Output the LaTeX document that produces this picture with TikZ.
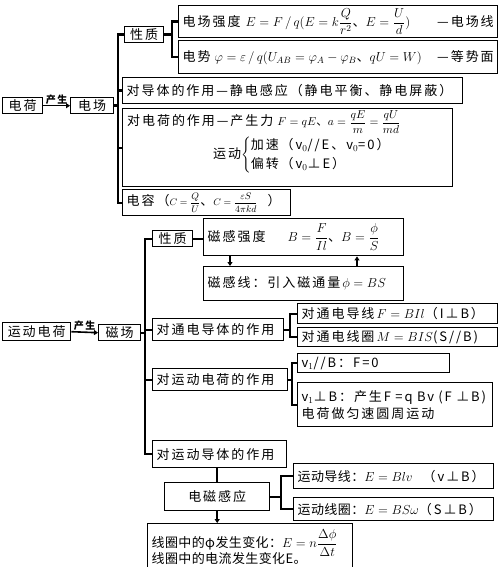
\RequirePackage{fix-cm}
\documentclass[tikz,border=0pt]{standalone}
\usepackage{amsmath}
\usepackage{fontspec}
\newfontfamily\cjk[LetterSpace=15]{Noto Sans CJK SC}
\newfontfamily\cjkn[LetterSpace=3]{Noto Sans CJK SC}
\usetikzlibrary{arrows.meta}
\newcommand\cjkf{\cjk\fontsize{13}{17}\selectfont}
\newcommand\oneline[1]{\makebox[\hsize][l]{#1}}
\tikzset{
  bx/.style={draw, line width=1.4pt, anchor=north west, inner xsep=4pt, inner ysep=1pt, font=\cjkf, align=left},
  cbx/.style={draw, line width=1.4pt, anchor=north west, inner xsep=1pt, inner ysep=1pt, font=\cjkf, align=center},
  txt/.style={font=\cjkf, inner sep=0pt},
  con/.style={line width=2.4pt},
  arr/.style={line width=2pt, -{Triangle[length=4pt,width=5pt]}},
  gen/.style={line width=1.6pt, -{Triangle[length=4pt,width=5pt]}},
  genlbl/.style={font=\cjk\bfseries\fontsize{10}{10}\selectfont, inner sep=0.5pt, above}
}
\newcommand\mybox[6]{%
  \pgfmathsetmacro\mybw{#4-#2}\pgfmathsetmacro\mybh{#5-#3}\pgfmathsetmacro\mytw{#4-#2-8}%
  \node[bx, minimum width=\mybw pt, minimum height=\mybh pt, text width=\mytw pt] (#1) at (#2,#3) {\oneline{#6}};}
\newcommand\myboxm[6]{%
  \pgfmathsetmacro\mybw{#4-#2}\pgfmathsetmacro\mybh{#5-#3}\pgfmathsetmacro\mytw{#4-#2-8}%
  \node[bx, minimum width=\mybw pt, minimum height=\mybh pt, text width=\mytw pt] (#1) at (#2,#3) {#6};}
\newcommand\mycbox[6]{%
  \pgfmathsetmacro\mybw{#4-#2}\pgfmathsetmacro\mybh{#5-#3}%
  \node[cbx, minimum width=\mybw pt, minimum height=\mybh pt] (#1) at (#2,#3) {#6};}
\begin{document}
\begin{tikzpicture}[x=1pt,y=-1pt]
\clip (0,0) rectangle (500,567);
\fill[white] (0,0) rectangle (500,567);
% ---------- upper part ----------
\mycbox{A}{2}{97}{42}{113}{电荷}
\mycbox{B}{70}{97}{113}{113}{电场}
\mycbox{C}{124}{26}{163}{42}{性质}
\mybox{D}{178}{5}{497}{37}{电场强度\hspace{5pt}$E = F\,/\,q(E = k\dfrac{Q}{r^2}$、$E = \dfrac{U}{d})$\hfill—电场线}
\mybox{E}{178}{40}{497}{73}{电势\hspace{4pt}$\varphi = \varepsilon\,/\,q(U_{AB} = \varphi_A - \varphi_B$、$qU = W)$\hfill—等势面}
\mybox{F}{122}{77}{462}{103}{对导体的作用—静电感应（静电平衡、静电屏蔽）}
\myboxm{G}{122}{108}{452}{186}{}
\node[txt, anchor=west] (g1) at (127,122) {对电荷的作用—产生力\hspace{4pt}{\fontsize{11.5}{13}\selectfont$F = qE$、$a = \dfrac{qE}{m} = \dfrac{qU}{md}$}};
\node[txt, anchor=west] (g2) at (213,155) {运动$\left\{\def\arraystretch{1.15}\begin{tabular}{@{}l@{}}加速（v$_0$//E、v$_0$=0）\\偏转（v$_0$⊥E）\end{tabular}\right.$};
\mybox{H}{122}{189}{290}{215}{电容（{\fontsize{9.5}{10}\selectfont$C = \dfrac{Q}{U}$}、{\fontsize{9.5}{10}\selectfont$C = \dfrac{\varepsilon S}{4\pi kd}$}\hspace{10pt}）}

\draw[gen] (A.east) -- (B.west) node[midway, genlbl] (p1) {产生};
\coordinate (tr) at (118,0);
\draw[con] (C.west) -- (C.west -| tr) -- (H.west -| tr) -- (H.west);
\draw[con] (F.west) -- (F.west -| tr);
\draw[con] (G.west) -- (G.west -| tr);
\draw[con] (B.east) -- (B.east -| tr);
\coordinate (b1) at (172,0);
\draw[con] (C.east) -- (C.east -| b1);
\draw[con] (D.west) -- (D.west -| b1) -- (E.west -| b1) -- (E.west);

% ---------- lower part ----------
\mycbox{I}{152}{230}{192}{246}{性质}
\mybox{J}{203}{218}{403}{255}{磁感强度\hspace{22pt}$B = \dfrac{F}{Il}$、$B = \dfrac{\phi}{S}$}
\mybox{K}{203}{266}{403}{300}{磁感线：引入磁通量\hspace{2pt}$\phi = BS$}
\mycbox{L}{2}{322}{70}{340}{运动电荷}
\mycbox{M}{98}{324}{140}{340}{磁场}
\mybox{N}{152}{318}{283}{340}{对通电导体的作用}
\mybox{O}{297}{303}{497}{323}{对通电导线\,$F = BIl$（I⊥B）}
\mybox{P}{297}{327}{497}{346}{对通电线圈\,$M = BIS$(S//B)}
\mybox{Q}{152}{368}{287}{390}{对运动电荷的作用}
\mybox{R}{297}{353}{449}{372}{v$_1$//B：F=0}
\myboxm{S}{297}{382}{492}{426}{\oneline{v$_1$⊥B：产生F =q Bv (F ⊥B)}\\\oneline{电荷做匀速圆周运动}}
\mybox{T}{152}{440}{286}{467}{对运动导体的作用}
\mycbox{U}{164}{482}{269}{510}{电磁感应}
\mybox{V}{293}{463}{493}{488}{{\cjkn 运动导线：}$E = Blv$\hspace{10pt}（v⊥B）}
\mybox{W}{293}{497}{493}{520}{{\cjkn 运动线圈：}$E = BS\omega$（S⊥B）}
\myboxm{X}{147}{523}{352}{569}{\oneline{\cjkn 线圈中的φ发生变化：$E = n\dfrac{\Delta\phi}{\Delta t}$}\\[-5pt]\oneline{\cjkn 线圈中的电流发生变化E。}}

\draw[gen] (L.east) -- (M.west) node[midway, genlbl] (p2) {产生};
\coordinate (tr2) at (145,0);
\draw[con] (I.west) -- (I.west -| tr2) -- (T.west -| tr2) -- (T.west);
\draw[con] (N.west) -- (N.west -| tr2);
\draw[con] (Q.west) -- (Q.west -| tr2);
\draw[con] (M.east) -- (M.east -| tr2);
\draw[con] (I.east) -- (I.east -| J.west);
\draw[arr] ([xshift=27pt]J.south west) -- ([xshift=27pt]K.north west);
\draw[arr] ([xshift=154pt]K.north west) -- ([xshift=154pt]J.south west);
\coordinate (b2) at (290,0);
\draw[con] (N.east) -- (N.east -| b2);
\draw[con] (O.west) -- (O.west -| b2) -- (P.west -| b2) -- (P.west);
\coordinate (b3) at (292,0);
\draw[con] (Q.east) -- (Q.east -| b3);
\draw[con] (R.west) -- (R.west -| b3) -- (S.west -| b3) -- (S.west);
\coordinate (b4) at (281,0);
\draw[con] (U.east) -- (U.east -| b4);
\draw[con] (V.west) -- (V.west -| b4) -- (W.west -| b4) -- (W.west);
\draw[con] (U.north |- T.south) -- (U.north);
\draw[arr] (U.south) -- (U.south |- X.north);
\end{tikzpicture}
\end{document}
